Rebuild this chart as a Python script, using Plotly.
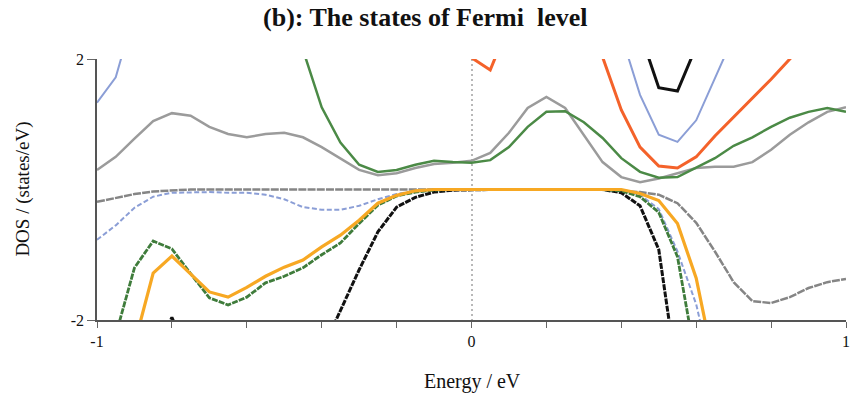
import plotly.graph_objects as go

# Energy grid (eV), 0.05 eV step from -1 to 1
energy = [round(-1 + 0.05 * i, 2) for i in range(41)]

N = None
# Spin-up (positive) DOS curves
gray_up = [0.30, 0.50, 0.78, 1.05, 1.17, 1.13, 0.96, 0.85, 0.80, 0.85,
           0.87, 0.80, 0.65, 0.48, 0.30, 0.22, 0.25, 0.33, 0.39, 0.41,
           0.44, 0.56, 0.87, 1.25, 1.42, 1.25, 0.84, 0.42, 0.19, 0.11,
           0.17, 0.25, 0.33, 0.35, 0.35, 0.42, 0.61, 0.84, 1.03, 1.19, 1.26]
green_up = [N, N, N, N, N, N, N, N, N, N,
            N, 2.14, 1.26, 0.72, 0.38, 0.27, 0.30, 0.38, 0.44, 0.42,
            0.41, 0.45, 0.65, 0.96, 1.19, 1.20, 1.03, 0.79, 0.48, 0.27,
            0.18, 0.19, 0.33, 0.48, 0.67, 0.80, 0.96, 1.10, 1.19, 1.25, 1.19]
red_up = [N, N, N, N, N, N, N, N, N, N,
          N, N, N, N, N, N, N, N, N, 3.00,
          2.02, 1.83, 2.54, N, N, N, N, 2.03, 1.22, 0.65,
          0.36, 0.33, 0.50, 0.82, 1.11, 1.40, 1.69, 2.00, 2.30, N, N]
blue_up = [1.33, 1.72, 2.72, N, N, N, N, N, N, N,
           N, N, N, N, N, N, N, N, N, N,
           N, N, N, N, N, N, N, N, 2.37, 1.45,
           0.84, 0.73, 1.06, 1.70, 2.35, N, N, N, N, N, N]
black_up = [N] * 29 + [2.41, 1.56, 1.51, 2.19] + [N] * 8

# Spin-down (negative) DOS curves
gray_dn = [-0.19, -0.13, -0.07, -0.03, -0.01, 0, 0, 0, 0, 0,
           0, 0, 0, 0, 0, 0, 0, 0, 0, 0,
           0, 0, 0, 0, 0, 0, 0, 0, -0.02, -0.04,
           -0.08, -0.21, -0.51, -0.95, -1.42, -1.71, -1.74, -1.65, -1.51, -1.42, -1.37]
blue_dn = [-0.77, -0.55, -0.28, -0.11, -0.05, -0.04, -0.04, -0.05, -0.05, -0.08,
           -0.15, -0.27, -0.31, -0.31, -0.25, -0.15, -0.07, -0.02, 0, 0,
           0, 0, 0, 0, 0, 0, 0, 0, -0.01, -0.08,
           -0.30, -0.95, -1.76, -3.00, N, N, N, N, N, N, N]
green_dn = [N, -2.23, -1.20, -0.79, -0.91, -1.29, -1.66, -1.77, -1.65, -1.43,
            -1.33, -1.20, -1.00, -0.82, -0.52, -0.24, -0.10, -0.04, -0.01, 0,
            0, 0, 0, 0, 0, 0, 0, 0, -0.02, -0.11,
            -0.35, -1.03, -2.65, N, N, N, N, N, N, N, N]
orange_dn = [N, N, -2.37, -1.28, -1.02, -1.30, -1.57, -1.65, -1.50, -1.33,
             -1.19, -1.08, -0.88, -0.70, -0.47, -0.21, -0.09, -0.02, 0, 0,
             0, 0, 0, 0, 0, 0, 0, 0, 0, -0.06,
             -0.17, -0.52, -1.36, -2.75, N, N, N, N, N, N, N]
black_dn = [N, N, N, -2.60, -1.96, -2.60, N, N, N, N,
            N, N, -2.48, -1.85, -1.23, -0.65, -0.27, -0.12, -0.04, -0.01,
            0, 0, 0, 0, 0, 0, 0, 0, -0.05, -0.25,
            -0.92, -2.90, N, N, N, N, N, N, N, N, N]

SERIF = "Liberation Serif, Times New Roman, serif"

series = [
    (gray_up, "#9b9b9b", 2.5, "solid"),
    (gray_dn, "#858585", 2.5, "8px,1.2px"),
    (blue_dn, "#8b9ed6", 2.0, "5px,2.5px"),
    (blue_up, "#8b9ed6", 2.0, "solid"),
    (green_up, "#4b8a46", 2.5, "solid"),
    (red_up, "#f4622a", 3.0, "solid"),
    (black_up, "#111111", 3.0, "solid"),
    (black_dn, "#111111", 3.0, "6px,1.2px"),
    (green_dn, "#3f7c3b", 2.8, "6px,1.2px"),
    (orange_dn, "#f7a823", 3.2, "solid"),
]

fig = go.Figure()
for ys, color, width, dash in series:
    fig.add_trace(go.Scatter(
        x=energy, y=ys, mode="lines", connectgaps=False,
        line=dict(color=color, width=width, dash=dash),
        showlegend=False, hoverinfo="skip",
    ))

fig.update_layout(
    width=854, height=400,
    margin=dict(l=97, r=4, t=59, b=80),
    paper_bgcolor="white", plot_bgcolor="white",
    font=dict(family=SERIF, color="#111", size=16),
    title=dict(
        text="<b>(b): The states of Fermi\u00a0 level</b>",
        font=dict(family=SERIF, size=26, color="#111"),
        xref="container", yref="container", x=0.498, y=0.957,
        xanchor="center", yanchor="middle",
    ),
)

fig.update_xaxes(
    range=[-1, 1], tickvals=[-1, 0, 1], ticktext=["-1", "0", "1"],
    ticks="outside", ticklen=6, tickcolor="#666",
    minor=dict(dtick=0.2, tick0=-1, ticks="outside", ticklen=6, tickcolor="#666", showgrid=False),
    showline=True, linecolor="#555", linewidth=1.5,
    showgrid=True, gridcolor="#b8b8b8", gridwidth=1.5, griddash="2px,3px",
    zeroline=False, tickfont=dict(family=SERIF, size=16),
)
fig.update_yaxes(
    range=[-2, 2], tickvals=[-2, 2], ticktext=["-2", "2"],
    ticks="outside", ticklen=8, tickcolor="#666",
    showline=True, linecolor="#555", linewidth=1.5,
    showgrid=True, gridcolor="#c0c0c0", gridwidth=1, griddash="3px,3px",
    zeroline=False, tickfont=dict(family=SERIF, size=16),
)

fig.add_annotation(
    text="Energy / eV", xref="paper", yref="paper", x=0.502, y=-0.235,
    xanchor="center", yanchor="middle", showarrow=False,
    font=dict(family=SERIF, size=20, color="#111"),
)
fig.add_annotation(
    text="DOS / (states/eV)", xref="paper", yref="paper", x=-0.1, y=0.5,
    xanchor="center", yanchor="middle", textangle=-90, showarrow=False,
    font=dict(family=SERIF, size=19, color="#111"),
)

fig.write_html("out.html")
